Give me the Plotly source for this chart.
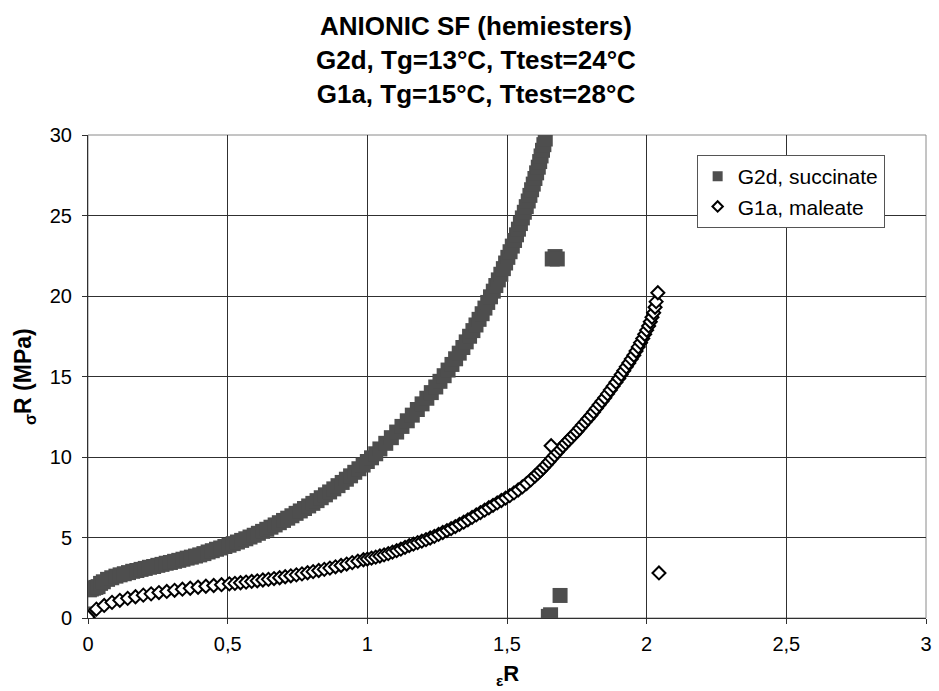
import plotly.graph_objects as go

# ---- data: true strain (eR) vs true stress (sR, MPa) ----
# G2d, succinate (filled squares)
g2d_strain = [
    0.000, 0.005, 0.012, 0.020, 0.028, 0.036, 0.045, 0.055, 0.070, 0.085,
    0.100, 0.115, 0.130, 0.145, 0.160, 0.175, 0.190, 0.205, 0.220, 0.235,
    0.250, 0.265, 0.280, 0.295, 0.310, 0.325, 0.340, 0.355, 0.370, 0.385,
    0.400, 0.415, 0.430, 0.445, 0.460, 0.475, 0.490, 0.505, 0.520, 0.535,
    0.550, 0.565, 0.580, 0.595, 0.610, 0.625, 0.640, 0.655, 0.670, 0.685,
    0.700, 0.715, 0.730, 0.745, 0.760, 0.775, 0.790, 0.805, 0.820, 0.835,
    0.850, 0.865, 0.880, 0.895, 0.910, 0.925, 0.940, 0.955, 0.970, 0.985,
    1.000, 1.015, 1.030, 1.045, 1.066, 1.086, 1.105, 1.124, 1.143, 1.161,
    1.179, 1.196, 1.213, 1.229, 1.245, 1.260, 1.275, 1.289, 1.303, 1.316,
    1.329, 1.342, 1.354, 1.366, 1.378, 1.389, 1.400, 1.411, 1.421, 1.431,
    1.441, 1.451, 1.460, 1.469, 1.478, 1.487, 1.495, 1.503, 1.511, 1.519,
    1.527, 1.534, 1.541, 1.548, 1.555, 1.562, 1.569, 1.576, 1.582, 1.588,
    1.594, 1.600, 1.606, 1.612, 1.617, 1.622, 1.627, 1.632, 1.637,
    1.662, 1.672, 1.680, 1.648, 1.656, 1.690,
]
g2d_stress = [
    0.25, 1.75, 1.80, 1.85, 1.90, 1.95, 2.15, 2.25, 2.40, 2.50,
    2.60, 2.68, 2.75, 2.82, 2.90, 2.95, 3.02, 3.08, 3.15, 3.20,
    3.27, 3.33, 3.40, 3.45, 3.52, 3.58, 3.65, 3.72, 3.78, 3.85,
    3.92, 4.00, 4.10, 4.18, 4.27, 4.35, 4.44, 4.52, 4.62, 4.72,
    4.82, 4.92, 5.03, 5.14, 5.26, 5.38, 5.51, 5.64, 5.78, 5.92,
    6.06, 6.20, 6.35, 6.50, 6.65, 6.80, 6.96, 7.12, 7.29, 7.47,
    7.65, 7.83, 8.02, 8.22, 8.42, 8.62, 8.83, 9.05, 9.27, 9.50,
    9.72, 9.95, 10.20, 10.50, 10.85, 11.20, 11.55, 11.90, 12.25, 12.60,
    12.95, 13.30, 13.65, 14.00, 14.35, 14.70, 15.05, 15.40, 15.75, 16.10,
    16.45, 16.80, 17.15, 17.50, 17.85, 18.20, 18.55, 18.90, 19.25, 19.60,
    19.95, 20.30, 20.65, 21.00, 21.35, 21.70, 22.05, 22.40, 22.75, 23.10,
    23.45, 23.80, 24.15, 24.50, 24.85, 25.20, 25.55, 25.90, 26.25, 26.60,
    26.95, 27.30, 27.65, 28.00, 28.35, 28.70, 29.05, 29.40, 29.75,
    22.30, 22.45, 22.30, 0.10, 0.20, 1.40,
]

# G1a, maleate (open diamonds)
g1a_strain = [
    0.000, 0.030, 0.058, 0.086, 0.114, 0.142, 0.170, 0.198, 0.226, 0.254,
    0.282, 0.310, 0.338, 0.366, 0.394, 0.422, 0.450, 0.478, 0.506, 0.526,
    0.546, 0.566, 0.586, 0.606, 0.626, 0.646, 0.666, 0.686, 0.706, 0.726,
    0.746, 0.766, 0.786, 0.806, 0.826, 0.846, 0.866, 0.886, 0.906, 0.926,
    0.946, 0.966, 0.986, 1.000, 1.015, 1.030, 1.045, 1.060, 1.075, 1.090,
    1.105, 1.120, 1.135, 1.150, 1.165, 1.180, 1.195, 1.210, 1.225, 1.240,
    1.255, 1.270, 1.285, 1.300, 1.315, 1.330, 1.345, 1.360, 1.375, 1.390,
    1.405, 1.420, 1.435, 1.450, 1.465, 1.480, 1.495, 1.510, 1.525, 1.540,
    1.555, 1.570, 1.585, 1.600, 1.610, 1.620, 1.630, 1.640, 1.650, 1.660,
    1.670, 1.680, 1.690, 1.700, 1.710, 1.720, 1.730, 1.740, 1.750, 1.760,
    1.770, 1.780, 1.790, 1.800, 1.810, 1.820, 1.830, 1.840, 1.850, 1.860,
    1.870, 1.880, 1.890, 1.900, 1.909, 1.918, 1.927, 1.936, 1.945, 1.954,
    1.962, 1.970, 1.978, 1.986, 1.993, 2.000, 2.007, 2.013, 2.019, 2.025,
    2.030, 2.034, 2.040,
    1.658, 2.044,
]
g1a_stress = [
    0.05, 0.55, 0.78, 0.97, 1.10, 1.22, 1.32, 1.42, 1.50, 1.58,
    1.65, 1.72, 1.79, 1.85, 1.91, 1.97, 2.02, 2.07, 2.12, 2.15,
    2.19, 2.23, 2.27, 2.31, 2.36, 2.40, 2.45, 2.50, 2.56, 2.62,
    2.68, 2.74, 2.81, 2.88, 2.95, 3.02, 3.10, 3.18, 3.26, 3.35,
    3.44, 3.53, 3.62, 3.66, 3.72, 3.78, 3.85, 3.92, 4.00, 4.09,
    4.18, 4.28, 4.39, 4.50, 4.59, 4.68, 4.77, 4.87, 4.97, 5.07,
    5.19, 5.31, 5.43, 5.55, 5.68, 5.82, 5.95, 6.10, 6.25, 6.40,
    6.55, 6.70, 6.85, 7.00, 7.15, 7.30, 7.45, 7.60, 7.77, 7.95,
    8.14, 8.35, 8.58, 8.82, 8.98, 9.15, 9.33, 9.51, 9.70, 9.90,
    10.10, 10.30, 10.50, 10.68, 10.86, 11.04, 11.22, 11.40, 11.58, 11.78,
    11.98, 12.18, 12.38, 12.58, 12.80, 13.02, 13.24, 13.46, 13.68, 13.92,
    14.16, 14.40, 14.64, 14.88, 15.12, 15.36, 15.60, 15.84, 16.08, 16.32,
    16.58, 16.84, 17.10, 17.36, 17.62, 17.88, 18.14, 18.40, 18.68, 18.96,
    19.30, 19.65, 20.20,
    10.70, 2.80,
]

x_tick_vals = [0, 0.5, 1, 1.5, 2, 2.5, 3]
x_tick_text = ["0", "0,5", "1", "1,5", "2", "2,5", "3"]
y_tick_vals = [0, 5, 10, 15, 20, 25, 30]
y_tick_text = ["0", "5", "10", "15", "20", "25", "30"]

series_names = ["G2d, succinate", "G1a, maleate"]
title_lines = ["ANIONIC SF (hemiesters)", "G2d, Tg=13°C, Ttest=24°C",
               "G1a, Tg=15°C, Ttest=28°C"]

FONT = "Arial, Liberation Sans, sans-serif"
SQ_COLOR = "#4e4e4e"

fig = go.Figure()

# data markers (legend entries are drawn by the key-only traces below)
fig.add_trace(go.Scatter(
    x=g2d_strain, y=g2d_stress, mode="markers", name=series_names[0],
    showlegend=False,
    marker=dict(symbol="square", size=15, color=SQ_COLOR, line=dict(width=0)),
))
fig.add_trace(go.Scatter(
    x=g1a_strain, y=g1a_stress, mode="markers", name=series_names[1],
    showlegend=False,
    marker=dict(symbol="diamond", size=10, color="white",
                line=dict(width=2, color="black")),
))

# key-only traces with smaller legend symbols
fig.add_trace(go.Scatter(
    x=[None], y=[None], mode="markers", name=series_names[0], legendgroup="a",
    marker=dict(symbol="square", size=10, color=SQ_COLOR, line=dict(width=0)),
))
fig.add_trace(go.Scatter(
    x=[None], y=[None], mode="markers", name=series_names[1], legendgroup="b",
    marker=dict(symbol="diamond", size=8, color="white",
                line=dict(width=2, color="black")),
))

axis_common = dict(
    showgrid=True, gridcolor="#303030", gridwidth=1,
    showline=True, linecolor="#303030", linewidth=1,
    ticks="outside", ticklen=5, tickcolor="#303030",
    tickfont=dict(family=FONT, size=20, color="black"),
    zeroline=False, layer="below traces",
)

fig.update_xaxes(range=[0, 3], tickvals=x_tick_vals, ticktext=x_tick_text,
                 ticklabelstandoff=3, **axis_common)
fig.update_yaxes(range=[0, 30], tickvals=y_tick_vals, ticktext=y_tick_text,
                 ticklabelstandoff=6, **axis_common)

PLOT_L, PLOT_R, PLOT_T, PLOT_B = 88, 932, 135, 618.3
PW, PH = PLOT_R - PLOT_L, PLOT_B - PLOT_T


def px_x(p):
    return (p - PLOT_L) / PW


def px_y(p):
    return (PLOT_B - p) / PH


fig.update_layout(
    width=939, height=691,
    margin=dict(l=PLOT_L, r=939 - PLOT_R, t=PLOT_T, b=691 - PLOT_B),
    paper_bgcolor="white", plot_bgcolor="white",
    font=dict(family=FONT, color="black"),
    legend=dict(
        x=px_x(701), y=px_y(155), xanchor="left", yanchor="top",
        bgcolor="white", bordercolor="#555555", borderwidth=1,
        font=dict(family=FONT, size=21, color="black"),
        tracegroupgap=0,
    ),
    shapes=[dict(type="rect", xref="paper", yref="paper", x0=0, y0=0, x1=1, y1=1,
                 line=dict(color="#8a8a8a", width=1), layer="below")],
    annotations=[
        dict(text="<b>" + "<br>".join(title_lines) + "</b>",
             xref="paper", yref="paper", x=px_x(479), y=px_y(60),
             xanchor="center", yanchor="middle", showarrow=False,
             font=dict(family=FONT, size=26, color="black")),
        dict(text="<b><sub>σ</sub>R (MPa)</b>", xref="paper", yref="paper",
             x=px_x(24), y=0.5, xanchor="center", yanchor="middle",
             textangle=-90, showarrow=False,
             font=dict(family=FONT, size=23, color="black")),
        dict(text="<b><sub>ε</sub>R</b>", xref="paper", yref="paper",
             x=px_x(511), y=px_y(675),
             xanchor="center", yanchor="middle", showarrow=False,
             font=dict(family=FONT, size=22, color="black")),
    ],
)

fig.write_html("out.html")
